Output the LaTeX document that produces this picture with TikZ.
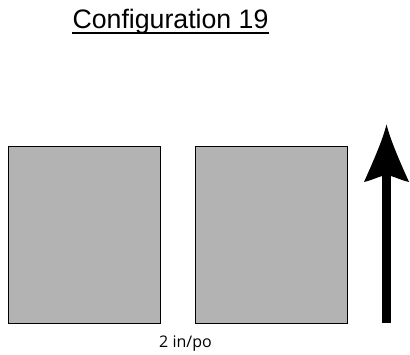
\documentclass[tikz,border=0pt]{standalone}
\usepackage{fontspec}
\setmainfont{Liberation Sans}
\newfontfamily\labelfont{Open Sans}
\begin{document}
\begin{tikzpicture}[x=1pt,y=1pt,
  panel/.style={draw=black,line width=1pt,fill=panelgray,minimum width=152pt,minimum height=177pt,inner sep=0pt,anchor=south west},
  titletext/.style={inner sep=0pt,anchor=base,font=\fontsize{26.7}{30}\selectfont},
  captext/.style={inner sep=0pt,anchor=base,font=\labelfont\fontsize{16}{18}\selectfont}]
\definecolor{panelgray}{HTML}{B3B3B3}
\useasboundingbox (0,0) rectangle (410,354);
\node[titletext] (title) at (170.5,325) {Configuration 19};
\draw[line width=2pt] ([yshift=-4pt]title.base west) -- ([yshift=-4pt]title.base east);
\node[panel] (left) at (8,30) {};
\node[panel] (right) at (195,30) {};
\node[captext] (cap) at (185.5,7) {2 in/po};
\draw[line width=8.5pt] (386.5,31) -- (386.5,182);
\fill (386.5,229.5) .. controls (391,212) and (401,190) .. (409,172)
  .. controls (400,174) and (392,178.7) .. (386.5,178.7)
  .. controls (381,178.7) and (373,174) .. (364,172)
  .. controls (372,190) and (382,212) .. (386.5,229.5) -- cycle;
\end{tikzpicture}
\end{document}
